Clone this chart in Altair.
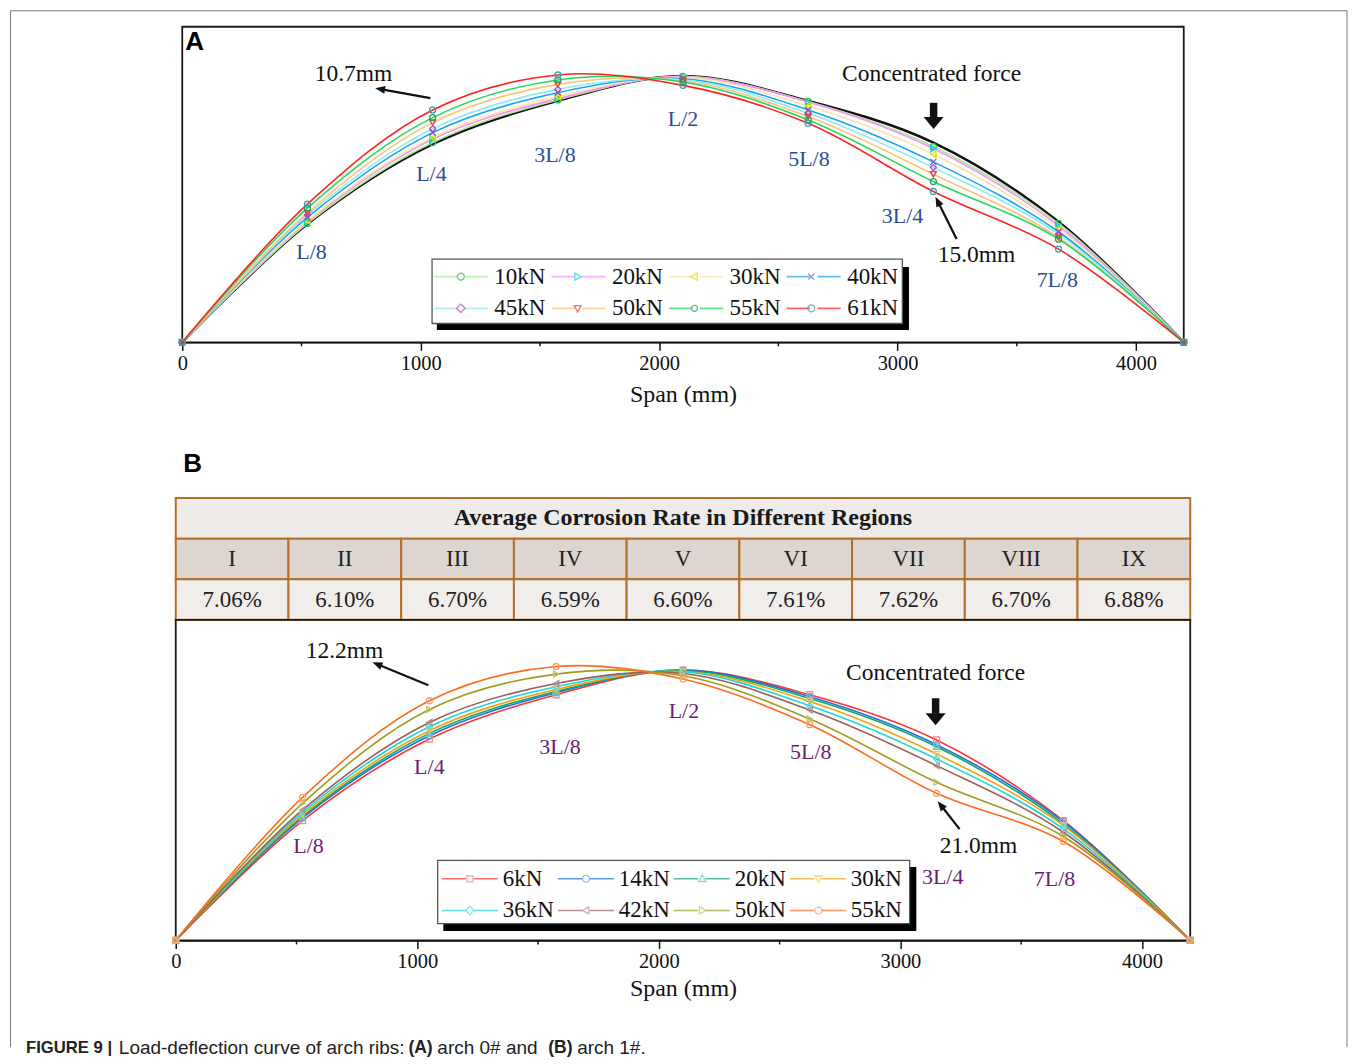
import math
import altair as alt
import pandas as pd

SERIF = "Liberation Serif"
SANS = "Liberation Sans"

# ---------------- data ----------------
SPAN = [0, 525, 1050, 1575, 2100, 2625, 3150, 3675, 4200]
MAJOR_TICKS = [0, 1000, 2000, 3000, 4000]
MINOR_TICKS = [500, 1500, 2500, 3500]
POS_TEXT = ["L/8", "L/4", "3L/8", "L/2", "5L/8", "3L/4", "7L/8"]

# Panel A (arch 0#) - relative rib height at each L/8 point
A_SERIES = ["10kN", "20kN", "30kN", "40kN", "45kN", "50kN", "55kN", "61kN"]
A_INITIAL = [0, 118.3, 198.3, 241.7, 266.7, 241.7, 200.0, 120.7, 0]
A_10KN = [0, 119.0, 200.0, 242.7, 266.3, 241.2, 196.0, 119.0, 0]
A_20KN = [0, 120.7, 203.3, 244.0, 266.0, 240.7, 194.0, 116.7, 0]
A_30KN = [0, 121.7, 205.0, 246.0, 265.3, 236.7, 188.3, 114.0, 0]
A_40KN = [0, 125.0, 210.0, 250.0, 264.0, 232.7, 180.7, 110.7, 0]
A_45KN = [0, 127.3, 214.0, 253.3, 263.0, 229.3, 175.0, 108.3, 0]
A_50KN = [0, 129.3, 220.0, 258.3, 262.0, 226.0, 168.3, 105.0, 0]
A_55KN = [0, 134.3, 225.0, 262.7, 260.7, 222.7, 161.0, 103.3, 0]
A_61KN = [0, 138.3, 232.7, 267.7, 257.3, 219.3, 151.0, 93.3, 0]

# Panel B (arch 1#)
B_SERIES = ["6kN", "14kN", "20kN", "30kN", "36kN", "42kN", "50kN", "55kN"]
B_6KN = [0, 120.0, 201.7, 246.0, 270.7, 246.0, 200.7, 120.0, 0]
B_14KN = [0, 122.7, 205.0, 248.0, 270.7, 244.0, 196.0, 119.0, 0]
B_20KN = [0, 124.0, 207.3, 249.3, 270.0, 242.3, 194.0, 116.7, 0]
B_30KN = [0, 126.0, 210.0, 251.3, 269.3, 239.3, 186.7, 115.0, 0]
B_36KN = [0, 128.3, 214.0, 254.0, 269.0, 235.0, 181.7, 111.7, 0]
B_42KN = [0, 130.7, 218.3, 257.3, 267.3, 230.7, 175.0, 108.3, 0]
B_50KN = [0, 137.3, 231.3, 266.7, 265.0, 221.7, 158.3, 104.0, 0]
B_55KN = [0, 143.3, 240.0, 274.3, 261.7, 216.0, 147.3, 99.0, 0]

# corrosion table
REGIONS = ["I", "II", "III", "IV", "V", "VI", "VII", "VIII", "IX"]
RATES = ["7.06%", "6.10%", "6.70%", "6.59%", "6.60%", "7.61%", "7.62%", "6.70%", "6.88%"]
TABLE_TITLE = "Average Corrosion Rate in Different Regions"

# annotation anchors (span mm, relative height)
A_POS_X = [542, 1045, 1563, 2100, 2628, 3021, 3670]
A_POS_Y = [90.5, 168.5, 187.5, 223.5, 183.5, 126.5, 62.5]
B_POS_X = [550, 1050, 1591, 2104, 2629, 3175, 3638]
B_POS_Y = [95, 174, 194, 230, 189, 63, 61]

A_NOTES = ["10.7mm", "Concentrated force", "15.0mm"]
A_NOTES_X = [718.5, 3142.5, 3331]
A_NOTES_Y = [268.5, 268.5, 87.5]
B_NOTES = ["12.2mm", "Concentrated force", "21.0mm"]
B_NOTES_X = [698.6, 3145.9, 3323.6]
B_NOTES_Y = [289.5, 267.5, 94.5]

A_ARROW_TAIL = [(1040.5, 244.5), (3247.3, 103.5)]
A_ARROW_HEAD = [(830.8, 253.6), (3168.6, 141.0)]
A_ARROW_ANGLE = [280.3, 333.4]
A_PUSH = (3151, 239.8, 224.5, 219.5)
B_ARROW_TAIL = [(1045.9, 255.5), (3245.0, 111.5)]
B_ARROW_HEAD = [(834.6, 276.5), (3167.8, 135.3)]
B_ARROW_ANGLE = [292.3, 321.8]
B_PUSH = (3145.9, 242.5, 227.0, 221.5)

# ---------------- styles ----------------
A_LINE_COLORS = ["#a4ec9c", "#ff8ef2", "#f6e6a6", "#14a6f2", "#8eeaf8", "#ffc377", "#24d85e", "#ff2222"]
A_MARK_COLORS = ["#20c840", "#10d0e0", "#e6e000", "#6657c8", "#c23fc2", "#e23b3b", "#2f9e5a", "#3aa0b0"]
B_LINE_COLORS = ["#ff3333", "#1f6fe0", "#0faa6b", "#f2a20f", "#1fd6d9", "#9a5d5d", "#9d9d1e", "#ff6a1f"]
B_MARK_COLORS = ["#ff8c8c", "#6fa3f2", "#63d3a2", "#f7c35a", "#46e0e2", "#bb8d8d", "#c4c462", "#ff9d66"]

X_PATH = "M-1,-1L1,1M-1,1L1,-1"
A_SHAPES = ["circle", "triangle-right", "triangle-left", X_PATH, "diamond", "triangle-down", "circle", "circle"]
B_SHAPES = ["square", "circle", "triangle-up", "triangle-down", "diamond", "triangle-left", "triangle-right", "circle"]


def poly_circle(r, n=14):
    pts = [(r * math.cos(2 * math.pi * k / n), r * math.sin(2 * math.pi * k / n)) for k in range(n)]
    return "M" + "L".join(f"{x:.3f},{y:.3f}" for x, y in pts) + "Z"


LC = poly_circle(0.7)
LC_S = poly_circle(0.6)
L_TR = "M-0.55,-0.7L0.75,0L-0.55,0.7Z"
L_TL = "M0.55,-0.7L-0.75,0L0.55,0.7Z"
L_X = "M-0.6,-0.6L0.6,0.6M-0.6,0.6L0.6,-0.6"
L_DI = "M0,-0.85L0.85,0L0,0.85L-0.85,0Z"
L_TD = "M-0.7,-0.55L0.7,-0.55L0,0.75Z"
L_TU = "M-0.7,0.55L0.7,0.55L0,-0.75Z"
L_SQ = "M-0.6,-0.6L0.6,-0.6L0.6,0.6L-0.6,0.6Z"
A_LEG_SHAPES = [LC, L_TR, L_TL, L_X, L_DI, L_TD, LC_S, LC]
B_LEG_SHAPES = [L_SQ, LC, L_TU, L_TD, L_DI, L_TL, L_TR, LC]
A_LEG_LINE = "M-5.4,0L-0.75,0M0.75,0L5.4,0"
B_LEG_LINE = "M-5.6,0L-0.75,0M0.75,0L5.6,0"

HEAD_PATH = "M0,-1L0.75,0.9L-0.75,0.9Z"
PUSH_PATH = "M-1,-0.6L1,-0.6L0,0.6Z"


def long_table(names, arrays):
    rows = []
    for name, vals in zip(names, arrays):
        for s, v in zip(SPAN, vals):
            rows.append({"series": name, "span": s, "h": v})
    return pd.DataFrame(rows)


def make_panel(df, names, line_colors, mark_colors, shapes, leg_shapes, leg_line,
               W, H, pos_x, pos_y, pos_color, notes, notes_x, notes_y,
               tails, heads, angles, push, leg_xy, sym_off, lab_off, col_pad, col_pad_marks,
               box, shadow, title_pad, extra_first=None, extra_last=None):
    xs = alt.Scale(domain=[0, 4200], nice=False, zero=False)
    ys = alt.Scale(domain=[0, H], nice=False, zero=False)
    axis = alt.Axis(values=MAJOR_TICKS, format="d", tickSize=8, tickWidth=1.5, tickColor="#111",
                    domainColor="#111", domainWidth=1.6, labelFont=SERIF, labelFontSize=20.5,
                    labelColor="#111", labelPadding=3, labelFlush=False, title="Span (mm)",
                    titleFont=SERIF, titleFontSize=24, titleFontWeight="normal", titleColor="#111",
                    titlePadding=title_pad, grid=False)
    X = alt.X("span:Q", scale=xs, axis=axis)
    Y = alt.Y("h:Q", scale=ys, axis=None)

    layers = []
    if extra_first is not None:
        layers += extra_first(X, Y)

    lines = alt.Chart(df).mark_line(interpolate="catmull-rom", strokeWidth=1.6).encode(
        x=X, y=Y,
        color=alt.Color("series:N", scale=alt.Scale(domain=names, range=line_colors), legend=None),
    )
    points = alt.Chart(df).mark_point(filled=False, size=36, strokeWidth=1.3, opacity=1).encode(
        x=X, y=Y,
        color=alt.Color("series:N", scale=alt.Scale(domain=names, range=mark_colors), legend=None),
        shape=alt.Shape("series:N", scale=alt.Scale(domain=names, range=shapes), legend=None),
    )
    minor = alt.Chart(pd.DataFrame({"span": MINOR_TICKS})).mark_rule(color="#111", strokeWidth=1.5).encode(
        x=X, y=alt.value(H), y2=alt.value(H + 4))

    pos_df = pd.DataFrame({"span": pos_x, "h": pos_y, "label": POS_TEXT})
    pos = alt.Chart(pos_df).mark_text(font=SERIF, fontSize=22, color=pos_color).encode(
        x=X, y=Y, text="label:N")
    note_df = pd.DataFrame({"span": notes_x, "h": notes_y, "label": notes})
    note = alt.Chart(note_df).mark_text(font=SERIF, fontSize=23.5, color="#111").encode(
        x=X, y=Y, text="label:N")

    arrows = []
    for (tx, ty), (hx, hy), ang in zip(tails, heads, angles):
        seg = pd.DataFrame({"span": [tx], "h": [ty], "span2": [hx], "h2": [hy]})
        arrows.append(alt.Chart(seg).mark_rule(color="#111", strokeWidth=2.2).encode(
            x=X, y=Y, x2="span2:Q", y2="h2:Q"))
        arrows.append(alt.Chart(pd.DataFrame({"span": [hx], "h": [hy]})).mark_point(
            shape=HEAD_PATH, filled=True, color="#111", size=110, angle=ang, opacity=1).encode(x=X, y=Y))
    px, p_top, p_bot, p_head = push
    arrows.append(alt.Chart(pd.DataFrame({"span": [px], "h": [p_top], "h2": [p_bot]})).mark_rule(
        color="#111", strokeWidth=7.5).encode(x=X, y=Y, y2="h2:Q"))
    arrows.append(alt.Chart(pd.DataFrame({"span": [px], "h": [p_head]})).mark_point(
        shape=PUSH_PATH, filled=True, color="#111", size=400, opacity=1).encode(x=X, y=Y))

    bx0, by0, bx1, by1 = box
    sx0, sy0, sx1, sy1 = shadow
    shadow_rect = alt.Chart(pd.DataFrame({"k": [0]})).mark_rect(color="#000").encode(
        x=alt.value(sx0), x2=alt.value(sx1), y=alt.value(sy0), y2=alt.value(sy1))
    box_rect = alt.Chart(pd.DataFrame({"k": [0]})).mark_rect(fill="white", stroke="#555", strokeWidth=1.3).encode(
        x=alt.value(bx0), x2=alt.value(bx1), y=alt.value(by0), y2=alt.value(by1))

    lx, ly = leg_xy
    common = dict(orient="none", legendX=lx, legendY=ly, columns=4, direction="horizontal", title=None,
                  symbolSize=100, symbolOffset=sym_off, labelOffset=lab_off, labelFont=SERIF,
                  labelFontSize=23, labelColor="#111", rowPadding=8, padding=0)
    leg_line_def = alt.Legend(symbolType=leg_line, symbolStrokeWidth=1.6, columnPadding=col_pad, **common)
    leg_mark_def = alt.Legend(symbolStrokeWidth=1.3, symbolFillColor="white", labelExpr="''",
                              columnPadding=col_pad_marks, **common)
    legend_lines = alt.Chart(df).transform_filter("false").mark_point(shape=leg_line, filled=False).encode(
        x=X, y=Y,
        color=alt.Color("series:N", scale=alt.Scale(domain=names, range=line_colors), legend=leg_line_def),
    )
    legend_marks = alt.Chart(df).transform_filter("false").mark_point(filled=False).encode(
        x=X, y=Y,
        color=alt.Color("series:N", scale=alt.Scale(domain=names, range=mark_colors), legend=leg_mark_def),
        shape=alt.Shape("series:N", scale=alt.Scale(domain=names, range=leg_shapes), legend=leg_mark_def),
    )

    layers += [lines, points, minor, pos, note] + arrows + [shadow_rect, box_rect, legend_lines, legend_marks]
    if extra_last is not None:
        layers += extra_last(X, Y)
    return alt.layer(*layers).resolve_scale(color="independent", shape="independent").properties(
        width=W, height=H, view=alt.ViewBackground(stroke="#1a1a1a", strokeWidth=1.8))


# ---------------- panel A ----------------
dfA = long_table(A_SERIES, [A_10KN, A_20KN, A_30KN, A_40KN, A_45KN, A_50KN, A_55KN, A_61KN])
dfA0 = long_table(["initial"], [A_INITIAL])


def a_first(X, Y):
    return [alt.Chart(dfA0).mark_line(interpolate="catmull-rom", strokeWidth=2.4, color="#111").encode(x=X, y=Y)]


def a_last(X, Y):
    one = pd.DataFrame({"k": [0]})
    frame_col = "#7a7a7a"
    return [
        alt.Chart(pd.DataFrame({"t": ["A"]})).mark_text(font=SANS, fontSize=26, fontWeight="bold",
                                                       color="#000").encode(
            x=alt.value(12.5), y=alt.value(15), text="t:N"),
        alt.Chart(one).mark_rule(color=frame_col, strokeWidth=1).encode(
            x=alt.value(-172), y=alt.value(-16), y2=alt.value(1022)),
        alt.Chart(one).mark_rule(color=frame_col, strokeWidth=1).encode(
            x=alt.value(-172), x2=alt.value(1166.5), y=alt.value(-16)),
        alt.Chart(one).mark_rule(color=frame_col, strokeWidth=1).encode(
            x=alt.value(1166.5), y=alt.value(-16), y2=alt.value(1022)),
    ]


panelA = make_panel(
    dfA, A_SERIES, A_LINE_COLORS, A_MARK_COLORS, A_SHAPES, A_LEG_SHAPES, A_LEG_LINE,
    1003, 316, A_POS_X, A_POS_Y, "#2b4c9b", A_NOTES, A_NOTES_X, A_NOTES_Y,
    A_ARROW_TAIL, A_ARROW_HEAD, A_ARROW_ANGLE, A_PUSH,
    (251.5, 238.5), 16, 22, 1.8, 56,
    (250.2, 232.8, 721.2, 297.2), (255.0, 240.5, 727.8, 303.8), 9,
    extra_first=a_first, extra_last=a_last)

# ---------------- spacer with "B" ----------------
spacer1 = alt.Chart(pd.DataFrame({"t": ["B"]})).mark_text(
    font=SANS, fontSize=26, fontWeight="bold", color="#000").encode(
    x=alt.value(17), y=alt.value(121.5), text="t:N").properties(width=1016, height=156)

# ---------------- corrosion table ----------------
cells = [{"x0": 0, "x1": len(REGIONS), "y0": 2, "y1": 3, "kind": "title", "text": TABLE_TITLE}]
for i, (r, v) in enumerate(zip(REGIONS, RATES)):
    cells.append({"x0": i, "x1": i + 1, "y0": 1, "y1": 2, "kind": "head", "text": r})
    cells.append({"x0": i, "x1": i + 1, "y0": 0, "y1": 1, "kind": "body", "text": v})
cells_df = pd.DataFrame(cells)
TX = alt.Scale(domain=[0, len(REGIONS)], nice=False, zero=False)
TY = alt.Scale(domain=[0, 3], nice=False, zero=False)
tbase = alt.Chart(cells_df)
t_rects = tbase.mark_rect(stroke="#b3702c", strokeWidth=2).encode(
    x=alt.X("x0:Q", scale=TX, axis=None), x2="x1:Q",
    y=alt.Y("y0:Q", scale=TY, axis=None), y2="y1:Q",
    fill=alt.Fill("kind:N", scale=alt.Scale(domain=["title", "head", "body"],
                                             range=["#efebe9", "#ddd5d0", "#f1edeb"]), legend=None))
t_text = tbase.transform_calculate(xc="(datum.x0 + datum.x1) / 2", yc="(datum.y0 + datum.y1) / 2")
t_title = t_text.transform_filter("datum.kind == 'title'").mark_text(
    font=SERIF, fontSize=24, fontWeight="bold", color="#1a1a1a").encode(
    x=alt.X("xc:Q", scale=TX, axis=None), y=alt.Y("yc:Q", scale=TY, axis=None), text="text:N")
t_cells = t_text.transform_filter("datum.kind != 'title'").mark_text(
    font=SERIF, fontSize=23, color="#222").encode(
    x=alt.X("xc:Q", scale=TX, axis=None), y=alt.Y("yc:Q", scale=TY, axis=None), text="text:N")
table = alt.layer(t_rects, t_title, t_cells).properties(width=1016, height=122)

# ---------------- panel B ----------------
dfB = long_table(B_SERIES, [B_6KN, B_14KN, B_20KN, B_30KN, B_36KN, B_42KN, B_50KN, B_55KN])
panelB = make_panel(
    dfB, B_SERIES, B_LINE_COLORS, B_MARK_COLORS, B_SHAPES, B_LEG_SHAPES, B_LEG_LINE,
    1016, 321, B_POS_X, B_POS_Y, "#6d1d6f", B_NOTES, B_NOTES_X, B_NOTES_Y,
    B_ARROW_TAIL, B_ARROW_HEAD, B_ARROW_ANGLE, B_PUSH,
    (266, 247.5), 17, 21.5, 0.2, 54.4,
    (262.3, 240.8, 735.0, 304.2), (268.0, 247.5, 741.7, 311.5), 5)

# ---------------- caption ----------------
spacer2 = alt.Chart(pd.DataFrame({"t": [""]})).mark_text().encode(
    x=alt.value(0), y=alt.value(0), text="t:N").properties(width=1016, height=97)

CAPTION = [("FIGURE 9 |", "bold", 16.7, -150), ("Load-deflection curve of arch ribs:", "normal", 19, -57),
           ("(A)", "bold", 17.5, 233), ("arch 0# and", "normal", 19, 262), ("(B)", "bold", 17.5, 373),
           ("arch 1#.", "normal", 19, 402)]
cap_layers = []
for txt, wt, fs, xo in CAPTION:
    cap_layers.append(alt.Chart(pd.DataFrame({"t": [txt]})).mark_text(
        font=SANS, fontSize=fs, fontWeight=wt, align="left", color="#222").encode(
        x=alt.value(xo), y=alt.value(11), text="t:N"))
caption = alt.layer(*cap_layers).properties(width=1016, height=1)

chart = alt.vconcat(panelA, spacer1, table, panelB, spacer2, caption,
                    spacing=0, center=True, bounds="flush").properties(
    padding={"left": 1, "top": 0, "right": 0, "bottom": 0}).configure_view(stroke=None)

chart.save("out.html", embed_options={"renderer": "svg", "actions": False})
